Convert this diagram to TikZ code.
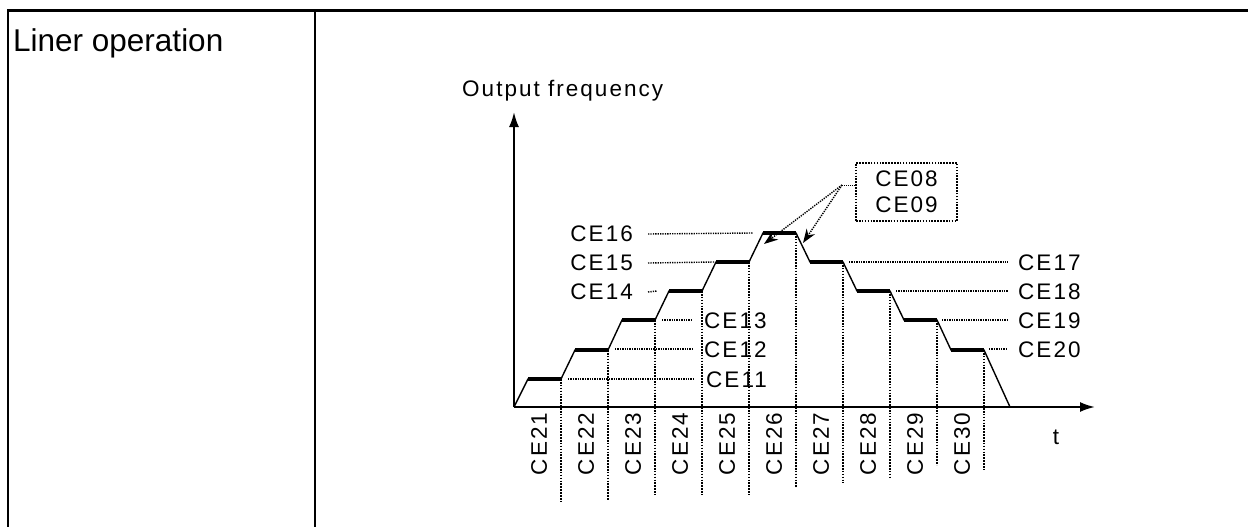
\documentclass[tikz,border=0pt]{standalone}
\usepackage{fontspec}
\setmainfont{Liberation Sans}
\newfontfamily\lsp[LetterSpace=9]{Liberation Sans}
\usetikzlibrary{arrows.meta}
\begin{document}
\begin{tikzpicture}[x=1pt,y=-1pt,
  frame/.style={line width=2.2pt},
  lbl/.style={font=\lsp\fontsize{22.5}{26}\selectfont, inner sep=0pt},
  axis/.style={line width=2pt},
  ramp/.style={line width=1.4pt},
  plateau/.style={line width=4.4pt},
  dotline/.style={line width=1.4pt, dash pattern=on 1.3pt off 1.1pt},
  vdot/.style={line width=2pt, dash pattern=on 1.6pt off 1.3pt},
  tip/.style={-{Stealth[length=14pt,width=10pt]}}]
\useasboundingbox (0,0) rectangle (1248,527);
% table frame
\coordinate (tl) at (7,10.5);
\coordinate (tr) at (1248,10.5);
\coordinate (lb) at (8,527);
\coordinate (mt) at (315,10.5);
\coordinate (mb) at (315,527);
\draw[frame] (tl) -- (tr);
\draw[frame] (tl -| lb) -- (lb);
\draw[frame] (mt) -- (mb);
\node[anchor=base west, inner sep=0pt, font=\fontsize{31.5}{34}\selectfont] (title) at (13,52) {Liner operation};
% axes
\coordinate (o) at (514,407);
\coordinate (ytop) at (514,112);
\coordinate (xend) at (1095,407);
\draw[axis,-{Latex[length=15pt,width=10pt]}] (o) -- (ytop);
\draw[axis,-{Latex[length=15pt,width=10pt]}] (o) -- (xend);
\node[lbl, anchor=base west] (yl) at (462,96) {Output frequency};
\node[lbl] (tl2) at (1056,437) {t};
% profile
\foreach \i/\sx/\ex/\ly in {1/528/561/379, 2/575/608/350, 3/622/655/320, 4/669/702/291, 5/716/749/262, 6/763/796/233, 7/810/843/262, 8/857/890/291, 9/904/937/320, 10/951/984/350}{
  \coordinate (s\i) at (\sx,\ly);
  \coordinate (e\i) at (\ex,\ly);
}
\coordinate (fend) at (1010,407);
\draw[ramp] (o) -- (s1) -- (e1) -- (s2) -- (e2) -- (s3) -- (e3) -- (s4) -- (e4) -- (s5) -- (e5) -- (s6) -- (e6) -- (s7) -- (e7) -- (s8) -- (e8) -- (s9) -- (e9) -- (s10) -- (e10) -- (fend);
\foreach \i in {1,...,10}{\draw[plateau] (s\i) -- (e\i);}
% vertical dotted lines
\foreach \i/\ex/\b in {1/561/501, 2/608/500, 3/655/495, 4/702/495, 5/749/495, 6/796/488, 7/843/483, 8/890/477, 9/937/465, 10/984/470}{
  \coordinate (b\i) at (\ex,\b);
  \draw[vdot] (e\i) -- (b\i);
}
% bottom labels
\foreach \x/\n in {539/21, 586/22, 633/23, 680/24, 727/25, 774/26, 821/27, 868/28, 915/29, 962/30}{
  \node[lbl, rotate=90] (c\n) at (\x,444) {CE\n};
}
% left labels
\node[lbl, anchor=east] (l16) at (633,234) {CE16};
\node[lbl, anchor=east] (l15) at (633,263) {CE15};
\node[lbl, anchor=east] (l14) at (633,292) {CE14};
\coordinate (g16) at (753,233);
\coordinate (g15) at (714,262);
\coordinate (g14) at (657,291);
\draw[dotline] ([xshift=15pt]l16.east) -- (g16);
\draw[dotline] ([xshift=15pt]l15.east) -- (g15);
\draw[dotline] ([xshift=15pt]l14.east) -- (g14);
\node[lbl, anchor=west] (l13) at (704,321) {CE13};
\node[lbl, anchor=west] (l12) at (704,350) {CE12};
\node[lbl, anchor=west] (l11) at (706,380) {CE11};
\coordinate (g13) at (662,320);
\coordinate (g12) at (615,349);
\coordinate (g11) at (568,379);
\draw[dotline] (g13) -- ([xshift=-11pt]l13.west |- g13);
\draw[dotline] (g12) -- ([xshift=-11pt]l12.west |- g12);
\draw[dotline] (g11) -- ([xshift=-13pt]l11.west |- g11);
% right labels
\node[lbl, anchor=west] (l17) at (1018,263) {CE17};
\node[lbl, anchor=west] (l18) at (1018,292) {CE18};
\node[lbl, anchor=west] (l19) at (1018,321) {CE19};
\node[lbl, anchor=west] (l20) at (1018,350) {CE20};
\coordinate (g17) at (849,262);
\coordinate (g18) at (896,291);
\coordinate (g19) at (942,320);
\coordinate (g20) at (989,349);
\draw[dotline] (g17) -- ([xshift=-10pt]l17.west |- g17);
\draw[dotline] (g18) -- ([xshift=-10pt]l18.west |- g18);
\draw[dotline] (g19) -- ([xshift=-10pt]l19.west |- g19);
\draw[dotline] (g20) -- ([xshift=-10pt]l20.west |- g20);
% CE08/CE09 box
\node[lbl, draw, line width=1.8pt, dash pattern=on 1.6pt off 1.3pt, minimum width=101pt, minimum height=58pt, align=center] (box) at (906.5,192) {CE08\\CE09};
\coordinate (j) at (842,185);
\coordinate (a1) at (764,244);
\coordinate (a2) at (803,243);
\draw[line width=0.9pt, dash pattern=on 1pt off 1pt] ([yshift=7pt]box.west) -- (j);
\draw[dotline, tip] (j) -- (a1);
\draw[dotline, tip] (j) -- (a2);
\end{tikzpicture}
\end{document}
